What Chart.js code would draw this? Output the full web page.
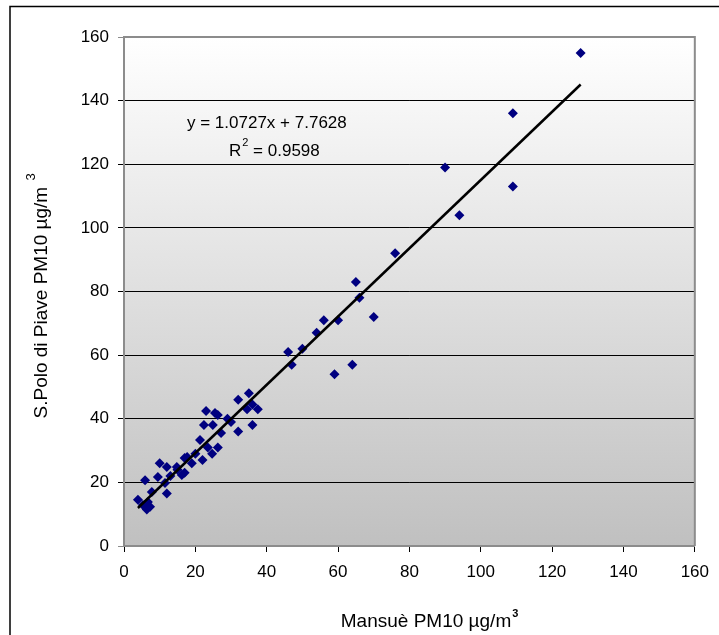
<!DOCTYPE html>
<html>
<head>
<meta charset="utf-8">
<script src="https://cdn.jsdelivr.net/npm/chart.js@4"></script>
<style>
  html, body { margin: 0; background: #fff; }
  #wrap { width: 719px; height: 635px; }
</style>
</head>
<body>
<div id="wrap"><canvas id="chart" width="719" height="635"></canvas></div>
<script>
// ---- data ----
const mansue = [128, 109, 109, 90, 94, 76, 65, 66, 70, 56, 60, 54, 46, 50, 47, 59, 64,
  32, 35, 36, 37.5, 34.5, 36, 32, 29, 30,
  23, 25.5, 26.3, 22.4, 24.9, 27.2, 21.3, 23.5, 26.3, 24.7, 20, 22, 17.7,
  10, 12, 14.8, 17, 17, 16.2, 5.9, 9.5, 11.5, 12, 7.8, 3.9, 5.3, 6.4, 7.3, 6.7, 13, 19, 15];
const spolo = [155, 136, 113, 119, 104, 92, 83, 78, 72, 71, 71, 67, 61, 62, 57, 54, 57,
  46, 48, 44.5, 43, 43, 38, 36, 40, 39,
  42.4, 41.8, 41.2, 38, 38, 35.5, 33.3, 31, 31, 29, 29, 27, 28,
  26, 24.8, 24.8, 27.7, 23, 22.3, 20.7, 21.7, 19.8, 16.5, 17, 14.5, 12.9, 11.5, 12.3, 13.8, 22, 26, 24];
const axisMin = 0, axisMax = 160, axisStep = 20;
const slope = 1.0727, intercept = 7.7628, rSquared = 0.9598;
const xTitle = 'Mansuè PM10 µg/m';
const yTitle = 'S.Polo di Piave PM10 µg/m';

const FONT = '"Liberation Sans", Arial, sans-serif';

const points = mansue.map((x, i) => ({ x, y: spolo[i] }));
const xMin = Math.min(...mansue), xMax = Math.max(...mansue);
const trend = [xMin, xMax].map(x => ({ x, y: slope * x + intercept }));

// ---- decorations: plot background, frame, equation, titles ----
const decor = {
  id: 'decor',
  beforeDraw(chart) {
    const { ctx, chartArea: a } = chart;
    ctx.save();
    const g = ctx.createLinearGradient(0, a.top, 0, a.bottom);
    g.addColorStop(0, '#ffffff');
    g.addColorStop(1, '#c0c0c0');
    ctx.fillStyle = g;
    ctx.fillRect(a.left, a.top, a.right - a.left, a.bottom - a.top);
    // outer chart frame
    ctx.strokeStyle = '#000';
    ctx.lineWidth = 1.5;
    ctx.beginPath();
    ctx.moveTo(10, 635);
    ctx.lineTo(10, 6.5);
    ctx.lineTo(719, 6.5);
    ctx.stroke();
    ctx.restore();
  },
  afterDraw(chart) {
    const { ctx, chartArea: a } = chart;
    ctx.save();
    // plot area border (top / right)
    ctx.strokeStyle = '#8c8c8c';
    ctx.lineWidth = 2;
    ctx.beginPath();
    ctx.moveTo(a.left, a.top);
    ctx.lineTo(a.right, a.top);
    ctx.lineTo(a.right, a.bottom);
    ctx.stroke();

    ctx.fillStyle = '#000';
    // regression equation
    ctx.font = '17px ' + FONT;
    ctx.textBaseline = 'middle';
    ctx.textAlign = 'left';
    ctx.fillText('y = ' + slope + 'x + ' + intercept, 187, 123);
    ctx.fillText('R', 229, 151);
    const rw = ctx.measureText('R').width;
    ctx.font = '11px ' + FONT;
    ctx.fillText('2', 229 + rw + 1, 143);
    const sw = ctx.measureText('2').width;
    ctx.font = '17px ' + FONT;
    ctx.fillText(' = ' + rSquared, 229 + rw + sw + 1, 151);

    // x title with superscript 3
    ctx.font = '19px ' + FONT;
    ctx.textAlign = 'left';
    ctx.textBaseline = 'alphabetic';
    const xw = ctx.measureText(xTitle).width;
    const xl = 429 - (xw + 6) / 2;
    ctx.fillText(xTitle, xl, 627);
    ctx.font = 'bold 11px ' + FONT;
    ctx.fillText('3', xl + xw + 1, 617);

    // y title, rotated
    ctx.translate(47, 296);
    ctx.rotate(-Math.PI / 2);
    ctx.font = '19px ' + FONT;
    const yw = ctx.measureText(yTitle + ' ').width;
    const yl = -(yw + 8) / 2;
    ctx.fillText(yTitle + ' ', yl, 0);
    ctx.font = '13px ' + FONT;
    ctx.fillText('3', yl + yw + 1, -12);
    ctx.restore();
  }
};

const edgeGray = ctx => (ctx.tick && (ctx.tick.value === axisMin || ctx.tick.value === axisMax)) ? '#8c8c8c' : '#000';

new Chart(document.getElementById('chart'), {
  type: 'scatter',
  data: {
    datasets: [
      {
        label: 'PM10',
        data: points,
        pointStyle: 'rectRot',
        pointRadius: 5,
        pointBackgroundColor: '#000080',
        pointBorderColor: '#000080',
        pointBorderWidth: 0,
        order: 2
      },
      {
        type: 'line',
        label: 'trend',
        data: trend,
        borderColor: '#000',
        borderWidth: 2.5,
        pointRadius: 0,
        fill: false,
        order: 1
      }
    ]
  },
  options: {
    responsive: false,
    devicePixelRatio: 1,
    animation: false,
    layout: { padding: { left: 0, top: 37, right: 24, bottom: 0 } },
    plugins: { legend: { display: false }, tooltip: { enabled: false } },
    scales: {
      x: {
        type: 'linear',
        min: axisMin, max: axisMax,
        ticks: { stepSize: axisStep, color: '#000', font: { family: FONT, size: 17 }, padding: 10, maxRotation: 0 },
        grid: { drawOnChartArea: false, color: '#000', tickLength: 6 },
        border: { display: true, color: '#8c8c8c', width: 2 },
        afterFit(s) { s.height = 89; }
      },
      y: {
        min: axisMin, max: axisMax,
        ticks: { stepSize: axisStep, color: '#000', font: { family: FONT, size: 17 }, padding: 9 },
        grid: { color: edgeGray, tickLength: 6, lineWidth: 1 },
        border: { display: true, color: '#8c8c8c', width: 2 },
        afterFit(s) { s.width = 124; }
      }
    }
  },
  plugins: [decor]
});
</script>
</body>
</html>
